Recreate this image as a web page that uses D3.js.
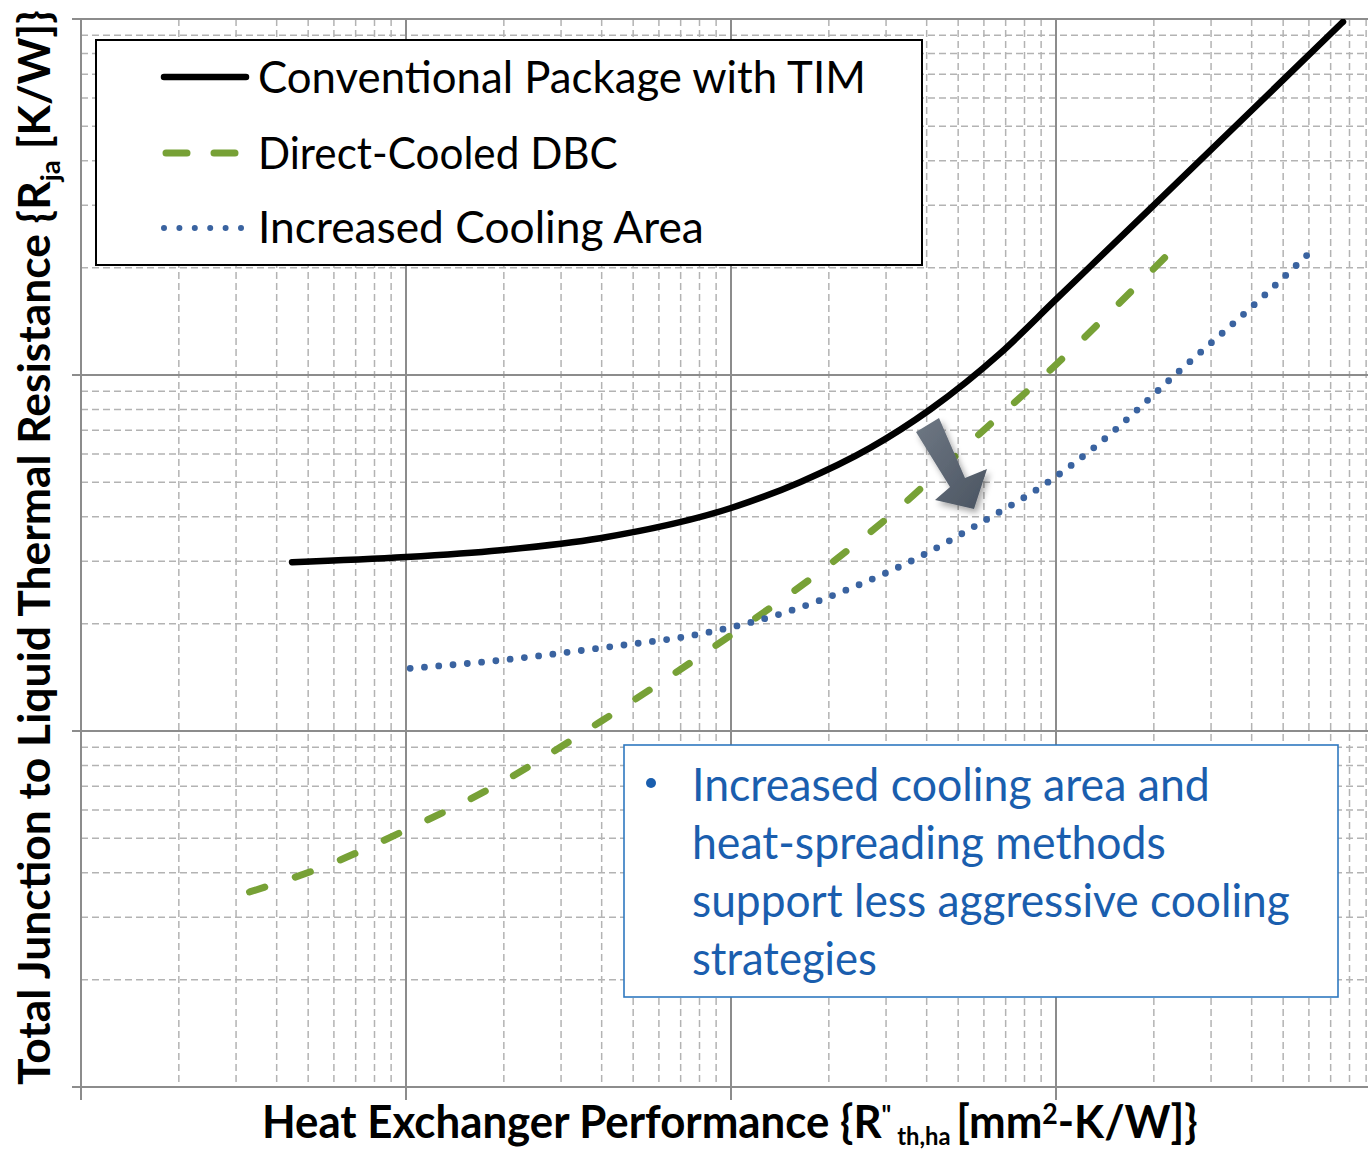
<!DOCTYPE html>
<html><head><meta charset="utf-8">
<script src="https://cdn.jsdelivr.net/npm/d3@7"></script>
<style>body{margin:0;background:#fff}svg{display:block}</style>
</head><body>
<svg id="chart" width="1368" height="1151"></svg>
<script>
// ---- data (log-log axes, no tick labels) ----
const xDomain = [1, 10000];      // 4 decades
const yDomain = [0.01, 10];      // 3 decades
const seriesNames = ["Conventional Package with TIM", "Direct-Cooled DBC", "Increased Cooling Area"];
const convX = [4.46, 10, 19.5, 39.5, 100, 163, 268, 410, 673, 1000, 1946, 3954, 7640];
const convY = [0.298, 0.308, 0.322, 0.348, 0.423, 0.50, 0.624, 0.80, 1.15, 1.63, 2.93, 5.48, 9.82];
const dbcX  = [3.3, 5.44, 10, 19.5, 39.5, 100, 179, 324, 555, 979, 2165];
const dbcY  = [0.0353, 0.0412, 0.0527, 0.0714, 0.106, 0.186, 0.271, 0.418, 0.657, 1.05, 2.14];
const areaX = [10.3, 19.5, 39.5, 84.4, 141.5, 234, 379, 600, 945, 1328, 2408, 4365, 5920];
const areaY = [0.150, 0.158, 0.171, 0.189, 0.213, 0.252, 0.308, 0.389, 0.500, 0.632, 1.03, 1.67, 2.17];
const noteLines = ["Increased cooling area and", "heat-spreading methods", "support less aggressive cooling", "strategies"];

// ---- layout ----
const L = 81, R = 1381, T = 19, B = 1087;
const svg = d3.select("#chart");
const x = d3.scaleLog().domain(xDomain).range([L, R]);
const y = d3.scaleLog().domain(yDomain).range([B, T]);

const defs = svg.append("defs");
defs.append("clipPath").attr("id", "plotclip").append("rect")
  .attr("x", L).attr("y", T).attr("width", R - L).attr("height", B - T);
const grad = defs.append("linearGradient").attr("id", "arrowGrad")
  .attr("x1", "0").attr("y1", "0").attr("x2", "1").attr("y2", "1");
grad.append("stop").attr("offset", "0").attr("stop-color", "#6f7884");
grad.append("stop").attr("offset", "1").attr("stop-color", "#4a5461");
const sh = defs.append("filter").attr("id", "shadow").attr("x", "-30%").attr("y", "-30%").attr("width", "160%").attr("height", "160%");
sh.append("feDropShadow").attr("dx", 3).attr("dy", 4).attr("stdDeviation", 3).attr("flood-color", "#000").attr("flood-opacity", 0.35);

// ---- grid ----
const xt = x.ticks();
const yt = y.ticks();
const isMajor = v => Math.abs(Math.log10(v) - Math.round(Math.log10(v))) < 1e-9;
const grid = svg.append("g");
grid.selectAll(".xm").data(xt.filter(v => !isMajor(v))).join("line")
  .attr("x1", d => x(d)).attr("x2", d => x(d)).attr("y1", T).attr("y2", B)
  .attr("stroke", "#b3b3b3").attr("stroke-width", 1.5).attr("stroke-dasharray", "7 4");
grid.selectAll(".ym").data(yt.filter(v => !isMajor(v))).join("line")
  .attr("y1", d => y(d)).attr("y2", d => y(d)).attr("x1", L).attr("x2", 1368)
  .attr("stroke", "#b3b3b3").attr("stroke-width", 1.5).attr("stroke-dasharray", "7 4");
grid.selectAll(".xM").data(xt.filter(isMajor)).join("line")
  .attr("x1", d => x(d)).attr("x2", d => x(d)).attr("y1", T).attr("y2", B + 13)
  .attr("stroke", "#8c8c8c").attr("stroke-width", 2);
grid.selectAll(".yM").data(yt.filter(isMajor)).join("line")
  .attr("y1", d => y(d)).attr("y2", d => y(d)).attr("x1", L - 9).attr("x2", 1368)
  .attr("stroke", "#8c8c8c").attr("stroke-width", 2);

// ---- series ----
const line = d3.line().x(d => x(d[0])).y(d => y(d[1])).curve(d3.curveMonotoneX);
const plot = svg.append("g").attr("clip-path", "url(#plotclip)");
// fit a dash pattern so the path starts and ends on a dash
function fitDash(path, dash, period) {
  const len = path.node().getTotalLength() - 0.6;
  const n = Math.max(1, Math.round((len - dash) / period));
  const p = (len - dash) / n;
  path.attr("stroke-dasharray", `${dash} ${p - dash}`);
}
const dbcPath = plot.append("path").datum(dbcX.map((v, i) => [v, dbcY[i]])).attr("d", line)
  .attr("fill", "none").attr("stroke", "#77a136").attr("stroke-width", 7)
  .attr("stroke-linecap", "round");
fitDash(dbcPath, 16, 49);
const areaPath = plot.append("path").datum(areaX.map((v, i) => [v, areaY[i]])).attr("d", line)
  .attr("fill", "none").attr("stroke", "#3a63a0").attr("stroke-width", 6.8)
  .attr("stroke-linecap", "round");
fitDash(areaPath, 0, 14.4);
plot.append("path").datum(convX.map((v, i) => [v, convY[i]])).attr("d", line)
  .attr("fill", "none").attr("stroke", "#000").attr("stroke-width", 6.5)
  .attr("stroke-linecap", "round");

// ---- arrow ----
const arrowPts = [[916,432],[939,418],[965,478],[987,469],[974,509],[935,500],[950,487]];
svg.append("polygon").attr("points", arrowPts.map(p => p.join(",")).join(" "))
  .attr("fill", "url(#arrowGrad)").attr("filter", "url(#shadow)");

// ---- text fitting helper ----
function fit(sel, target, ax) {
  const w = sel.node().getBBox().width;
  const s = target / w;
  sel.attr("transform", `translate(${ax},0) scale(${s},1) translate(${-ax},0)`);
}

// ---- legend ----
const lg = svg.append("g");
lg.append("rect").attr("x", 96).attr("y", 40).attr("width", 826).attr("height", 225)
  .attr("fill", "#fff").attr("stroke", "#000").attr("stroke-width", 2);
const legY = [77, 153, 228];
lg.append("line").attr("x1", 164).attr("x2", 246).attr("y1", legY[0]).attr("y2", legY[0])
  .attr("stroke", "#000").attr("stroke-width", 6.5).attr("stroke-linecap", "round");
lg.append("line").attr("x1", 166).attr("x2", 240).attr("y1", legY[1]).attr("y2", legY[1])
  .attr("stroke", "#77a136").attr("stroke-width", 7).attr("stroke-linecap", "round").attr("stroke-dasharray", "21 27");
lg.append("line").attr("x1", 164).attr("x2", 241).attr("y1", legY[2]).attr("y2", legY[2])
  .attr("stroke", "#3a63a0").attr("stroke-width", 6).attr("stroke-linecap", "round").attr("stroke-dasharray", "0 15.4");
const legW = [608, 360, 446];
const legBase = [93, 169, 243];
seriesNames.forEach((n, i) => {
  const t = lg.append("text").attr("x", 258).attr("y", legBase[i])
    .attr("font-family", "Lato, 'Open Sans', sans-serif").attr("font-size", 44)
    .attr("fill", "#000").text(n);
  fit(t, legW[i], 258);
});

// ---- annotation box ----
const nb = svg.append("g");
nb.append("rect").attr("x", 624).attr("y", 745).attr("width", 714).attr("height", 252)
  .attr("fill", "#fff").attr("stroke", "#2f78c0").attr("stroke-width", 1.6);
nb.append("circle").attr("cx", 651).attr("cy", 783).attr("r", 5).attr("fill", "#1a5eae");
const noteW = [518, 474, 598, 185];
noteLines.forEach((s, i) => {
  const t = nb.append("text").attr("x", 692).attr("y", 801 + i * 58)
    .attr("font-family", "Lato, 'Open Sans', sans-serif").attr("font-size", 46)
    .attr("fill", "#1a5eae").text(s);
  fit(t, noteW[i], 692);
});

// ---- axis titles ----
const xt2 = svg.append("text").attr("x", 262).attr("y", 1138)
  .attr("font-family", "Lato, 'Open Sans', sans-serif").attr("font-weight", 700)
  .attr("font-size", 46).attr("fill", "#000");
xt2.append("tspan").text("Heat Exchanger Performance {R");
xt2.append("tspan").attr("font-size", 26).attr("dy", -14).text("\"");
xt2.append("tspan").attr("font-size", 25).attr("dy", 21).text(" th,ha ");
xt2.append("tspan").attr("dy", -7).text("[mm");
xt2.append("tspan").attr("font-size", 28).attr("dy", -14).text("2");
xt2.append("tspan").attr("dy", 14).text("-K/W]}");
fit(xt2, 936, 262);

const yg = svg.append("g").attr("transform", "translate(50,1085) rotate(-90)");
const yt2 = yg.append("text").attr("x", 0).attr("y", 0)
  .attr("font-family", "Lato, 'Open Sans', sans-serif").attr("font-weight", 700)
  .attr("font-size", 43).attr("fill", "#000");
yt2.append("tspan").text("Total Junction to Liquid Thermal Resistance {R");
yt2.append("tspan").attr("font-size", 27).attr("dy", 10).text("ja");
yt2.append("tspan").attr("dy", -10).text(" [K/W]}");
fit(yt2, 1075, 0);
</script>
</body></html>
